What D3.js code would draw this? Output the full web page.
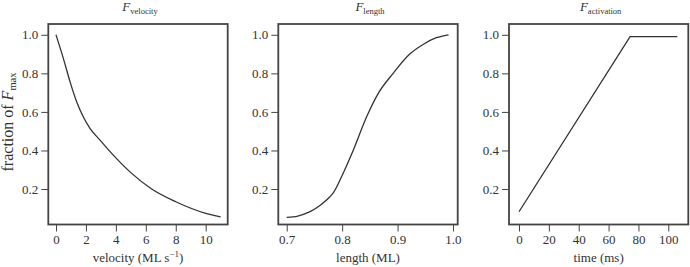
<!DOCTYPE html>
<html>
<head>
<meta charset="utf-8">
<script src="https://cdn.jsdelivr.net/npm/d3@7"></script>
<style>
  body { margin: 0; background: #fff; }
  svg text { font-family: "Liberation Serif", "Times New Roman", serif; fill: #333; }
</style>
</head>
<body>
<svg id="chart" width="690" height="267"></svg>
<script>
// values
const velocityX = [0, 0.49, 0.94, 1.38, 1.82, 2.27, 2.94, 3.72, 5, 6.39, 8, 10, 11];
const velocityF = [1.0, 0.878, 0.756, 0.653, 0.575, 0.515, 0.454, 0.385, 0.285, 0.2, 0.134, 0.074, 0.056];

const lengthX = [0.7, 0.72, 0.74, 0.76, 0.778, 0.784, 0.80, 0.817, 0.845, 0.866, 0.892, 0.922, 0.946, 0.97, 0.992];
const lengthF = [0.053, 0.06, 0.08, 0.115, 0.16, 0.18, 0.27, 0.38, 0.58, 0.7, 0.8, 0.9, 0.95, 0.985, 1.0];

const timeX = [0, 74.4, 106];
const activationF = [0.082, 0.99, 0.99];

const yTicks = [0.2, 0.4, 0.6, 0.8, 1.0];
const velocityTicks = [0, 2, 4, 6, 8, 10];
const lengthTicks = [0.7, 0.8, 0.9, 1.0];
const timeTicks = [0, 20, 40, 60, 80, 100];

const svg = d3.select("#chart");
const plotTop = 24, plotBottom = 224.5;
const y = d3.scaleLinear().domain([0.016, 1.056]).range([plotBottom, plotTop]);

const panels = [
  {left: 48.3, right: 227.7, domain: [-0.514, 11.47], xs: velocityX, ys: velocityF,
   ticks: velocityTicks, fmt: d3.format("d"), title: "velocity", xlabel: "velocity"},
  {left: 278.3, right: 457.7, domain: [0.6848, 1.0085], xs: lengthX, ys: lengthF,
   ticks: lengthTicks, fmt: d3.format(".1f"), title: "length", xlabel: "length (ML)"},
  {left: 509, right: 688.3, domain: [-6.7, 113.4], xs: timeX, ys: activationF,
   ticks: timeTicks, fmt: d3.format("d"), title: "activation", xlabel: "time (ms)"}
];

panels.forEach((p, i) => {
  const x = d3.scaleLinear().domain(p.domain).range([p.left, p.right]);
  const g = svg.append("g");

  // y axis
  const ya = g.append("g")
    .attr("transform", `translate(${p.left},0)`)
    .call(d3.axisLeft(y).tickValues(yTicks).tickFormat(d3.format(".1f")).tickSize(7).tickPadding(3));
  ya.select(".domain").remove();
  ya.selectAll("line").attr("stroke", "#444").attr("stroke-width", 1);
  ya.selectAll("text").attr("font-size", 13).attr("fill", "#333");

  // x axis
  const xa = g.append("g")
    .attr("transform", `translate(0,${plotBottom})`)
    .call(d3.axisBottom(x).tickValues(p.ticks).tickFormat(p.fmt).tickSize(7).tickPadding(3));
  xa.select(".domain").remove();
  xa.selectAll("line").attr("stroke", "#444").attr("stroke-width", 1);
  xa.selectAll("text").attr("font-size", 13).attr("fill", "#333");

  // curve
  const line = d3.line()
    .x(d => x(d[0])).y(d => y(d[1]))
    .curve(i === 2 ? d3.curveLinear : d3.curveMonotoneX);
  g.append("path")
    .datum(d3.zip(p.xs, p.ys))
    .attr("fill", "none")
    .attr("stroke", "#333")
    .attr("stroke-width", 1.3)
    .attr("d", line);

  // frame
  g.append("rect")
    .attr("x", p.left).attr("y", plotTop)
    .attr("width", p.right - p.left).attr("height", plotBottom - plotTop)
    .attr("fill", "none").attr("stroke", "#444").attr("stroke-width", 1.8);

  // title
  const cx = (p.left + p.right) / 2 + 2;
  const t = g.append("text")
    .attr("x", cx).attr("y", 11)
    .attr("text-anchor", "middle")
    .attr("font-size", 13);
  t.append("tspan").attr("font-style", "italic").text("F");
  t.append("tspan").attr("font-size", 8.5).attr("dy", 3).text(p.title);

  // x label
  const xl = g.append("text")
    .attr("x", cx - 2).attr("y", 262)
    .attr("text-anchor", "middle")
    .attr("font-size", 13);
  if (i === 0) {
    xl.append("tspan").text("velocity (ML s");
    xl.append("tspan").attr("font-size", 9).attr("dy", -5).text("\u22121");
    xl.append("tspan").attr("dy", 5).text(")");
  } else {
    xl.text(p.xlabel);
  }
});

// y label
const yl = svg.append("text")
  .attr("transform", "translate(13,122) rotate(-90)")
  .attr("text-anchor", "middle")
  .attr("font-size", 16);
yl.append("tspan").text("fraction of ");
yl.append("tspan").attr("font-style", "italic").text("F");
yl.append("tspan").attr("font-size", 10.5).attr("dy", 3).text("max");
</script>
</body>
</html>
